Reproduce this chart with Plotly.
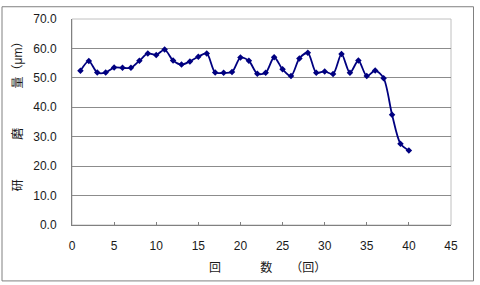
import plotly.graph_objects as go

runs = list(range(1, 41))
wear = [52.4, 55.7, 51.8, 51.8, 53.5, 53.4, 53.4, 55.8, 58.3, 57.8,
        59.6, 55.9, 54.5, 55.6, 57.2, 58.3, 51.8, 51.7, 52.0, 56.9,
        55.8, 51.4, 51.7, 57.0, 52.9, 50.6, 56.6, 58.5, 51.7, 52.2,
        51.3, 58.1, 51.7, 55.9, 50.6, 52.5, 49.9, 37.5, 27.6, 25.3]

x_title = "回　　　 数　　（回）"
y_title = "研　　　 磨　　　 量（μm）"

font_fam = "Liberation Sans, Arial, Noto Sans CJK JP, sans-serif"

fig = go.Figure()
fig.add_trace(go.Scatter(
    x=runs, y=wear, mode="lines+markers",
    line=dict(color="#000080", width=1.8, shape="spline", smoothing=0.8),
    marker=dict(symbol="diamond", size=5, color="#000080"),
    showlegend=False,
))

W, H = 480, 285
L, R, T, B = 72, 29, 15, 60

fig.update_layout(
    width=W, height=H,
    margin=dict(l=L, r=R, t=T, b=B),
    paper_bgcolor="white", plot_bgcolor="white",
    font=dict(family=font_fam, size=12, color="#1a1a1a"),
    xaxis=dict(range=[0, 45], dtick=5, tick0=0, showgrid=False,
               showline=True, linecolor="#808080", linewidth=1,
               ticks="inside", ticklen=3, tickcolor="#808080",
               zeroline=False, fixedrange=True, ticklabelstandoff=10),
    yaxis=dict(range=[0, 70], dtick=10, tick0=0, tickformat=".1f",
               showgrid=True, gridcolor="#8c8c8c", gridwidth=1,
               showline=True, linecolor="#808080", linewidth=1,
               ticks="", zeroline=False, fixedrange=True, ticklabelstandoff=12),
    shapes=[
        dict(type="rect", xref="paper", yref="paper", x0=0, x1=1, y0=0, y1=1,
             line=dict(color="#c0c0c0", width=1), layer="below"),
        dict(type="rect", xref="paper", yref="paper",
             x0=(2 - L) / (W - L - R), x1=(473.5 - L) / (W - L - R),
             y0=-(282 - (H - B)) / (H - T - B), y1=1 + (T - 2.5) / (H - T - B),
             line=dict(color="#808080", width=1)),
    ],
    annotations=[
        dict(text=x_title, xref="paper", yref="paper",
             x=(267 - L) / (W - L - R), y=-(268 - (H - B)) / (H - T - B),
             showarrow=False, xanchor="center", yanchor="middle",
             font=dict(size=12, color="#1a1a1a")),
        dict(text=y_title, xref="paper", yref="paper", textangle=-90,
             x=-(L - 18) / (W - L - R), y=((H - B) - 111) / (H - T - B),
             showarrow=False, xanchor="center", yanchor="middle",
             font=dict(size=12, color="#1a1a1a")),
    ],
)

fig.write_html("out.html")
